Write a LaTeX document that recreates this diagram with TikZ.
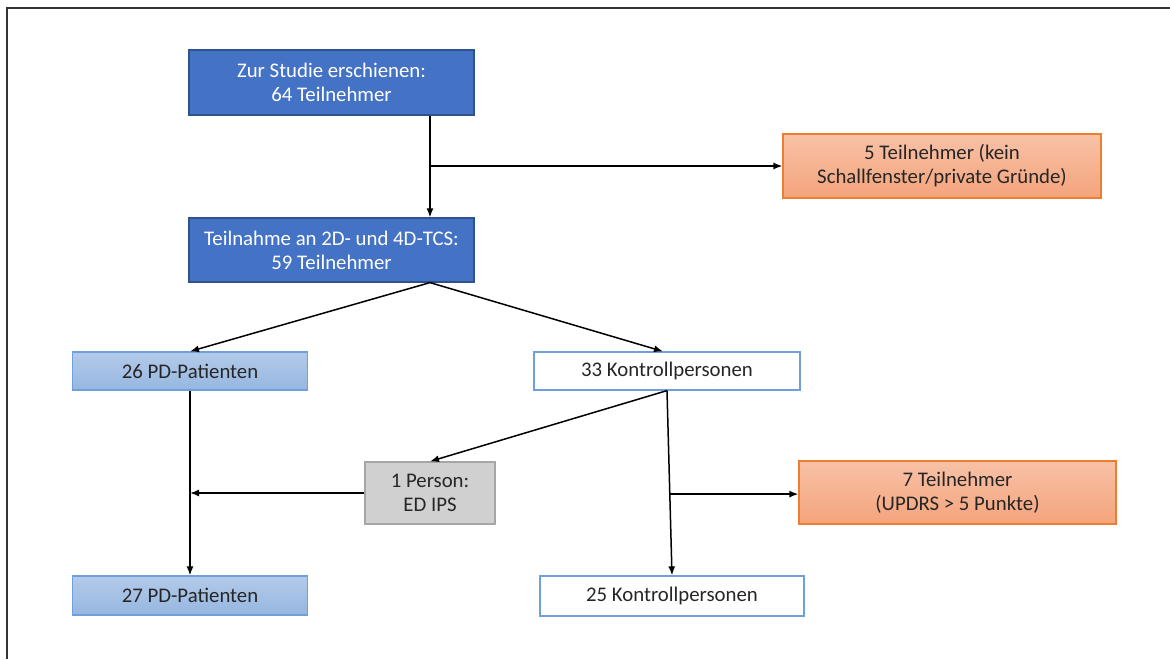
\documentclass[tikz,border=0pt]{standalone}
\usepackage{fontspec}
\setmainfont{Carlito}
\usetikzlibrary{arrows.meta,calc}
\definecolor{dblue}{HTML}{4472C4}
\definecolor{dblueb}{HTML}{2F528F}
\definecolor{orfillT}{HTML}{F8C1A6}
\definecolor{orfillB}{HTML}{F4A47C}
\definecolor{orline}{HTML}{ED7D31}
\definecolor{lbT}{HTML}{B3CAEA}
\definecolor{lbB}{HTML}{96B7E0}
\definecolor{lbline}{HTML}{6FA0DC}
\definecolor{gfill}{HTML}{D0D0D0}
\definecolor{gline}{HTML}{A6A6A6}
\tikzset{
  base/.style={rectangle, align=center, inner sep=2pt, font=\fontsize{20.8}{24}\selectfont, line width=1.2pt},
  darkbox/.style={base, fill=dblue, draw=dblueb, text=white},
  orangebox/.style={base, top color=orfillT, bottom color=orfillB, draw=orline, text=black!85},
  lightbox/.style={base, top color=lbT, bottom color=lbB, draw=lbline, text=black!85},
  whitebox/.style={base, fill=white, draw=lbline, text=black!85},
  graybox/.style={base, fill=gfill, draw=gline, text=black!85},
  arr/.style={line width=1.5pt, -{Latex[length=9pt,width=7pt]}},
  ln/.style={line width=1.5pt}
}
\begin{document}
\begin{tikzpicture}[x=1pt,y=-1pt]
\useasboundingbox (0,0) rectangle (1170,659);
\draw[line width=1.5pt, black!80] (7,659) -- (7,8) -- (1170,8);

\node[darkbox, minimum width=285pt, minimum height=65pt] (top) at (331.5,82.5) {Zur Studie erschienen:\\64 Teilnehmer};
\node[orangebox, minimum width=318pt, minimum height=64pt] (excl1) at (942,166) {5 Teilnehmer (kein\\Schallfenster/private Gründe)};
\node[darkbox, minimum width=285pt, minimum height=64pt] (tcs) at (331.5,250) {Teilnahme an 2D- und 4D-TCS:\\59 Teilnehmer};
\node[lightbox, minimum width=235pt, minimum height=38pt] (pd26) at (190,371) {26 PD-Patienten};
\node[whitebox, minimum width=266pt, minimum height=38pt] (k33) at (667,371) {33 Kontrollpersonen};
\node[graybox, minimum width=130pt, minimum height=62pt] (person) at (430,493) {1 Person:\\ED IPS};
\node[orangebox, minimum width=317pt, minimum height=63pt] (excl2) at (957.5,492.5) {7 Teilnehmer\\(UPDRS > 5 Punkte)};
\node[lightbox, minimum width=235pt, minimum height=39pt] (pd27) at (190,595.5) {27 PD-Patienten};
\node[whitebox, minimum width=264pt, minimum height=40pt] (k25) at (672,596) {25 Kontrollpersonen};

\coordinate (t1) at (430,0);
\draw[arr] (t1 |- top.south) -- (t1 |- tcs.north);
\draw[arr] (t1 |- excl1.west) -- (excl1.west);
\draw[arr] (t1 |- tcs.south) -- (pd26.north);
\draw[arr] (t1 |- tcs.south) -- ($(k33.north)+(-4,0)$);
\draw[arr] (pd26.south) -- (pd27.north);
\draw[arr] (k33.south) -- (person.north);
\draw[arr] (k33.south) -- (k25.north);
\coordinate (m) at ($(k33.south)!0.56!(k25.north)$);
\draw[arr] (m) -- (m -| excl2.west);
\draw[arr] (person.west) -- (pd26.south |- person.west);
\end{tikzpicture}
\end{document}
